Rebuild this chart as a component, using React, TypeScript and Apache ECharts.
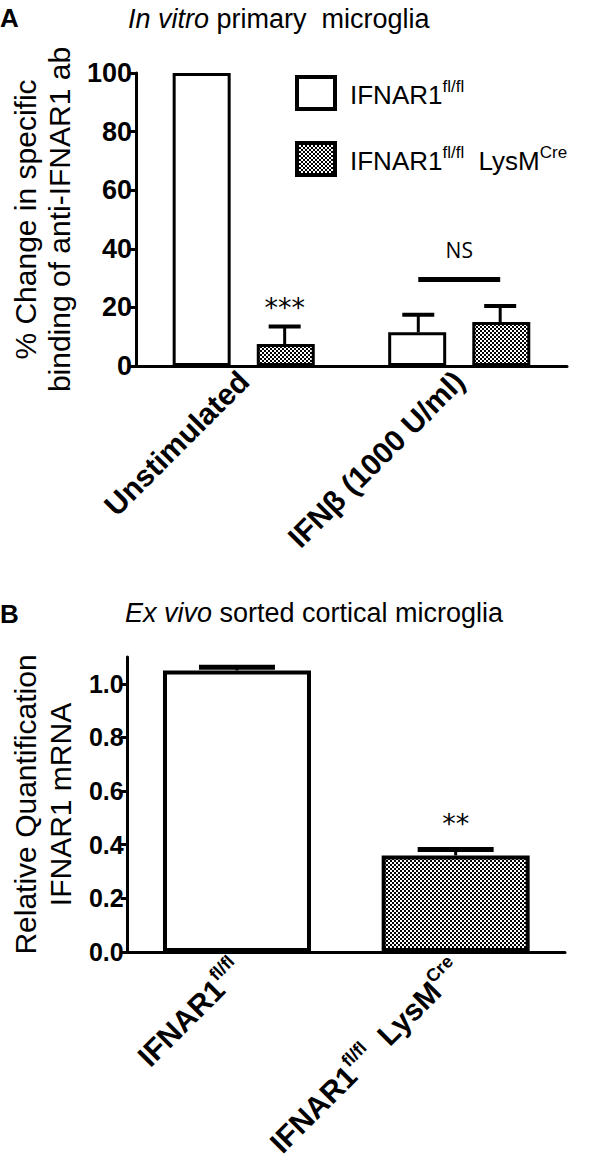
import React, { useEffect, useRef } from 'react';
import * as echarts from 'echarts';

// ---------- Panel A data ----------
const catsA = ['Unstimulated', 'IFNβ (1000 U/ml)'];
const wtA = [100, 11.5];
const koA = [7.5, 15];
const wtErrA = [0, 6];
const koErrA = [6, 5.5];
const starsA = [{ cat: 0, side: 1, y: 20, label: '***' }];
const nsA = [{ cat: 1, y: 29.5, label: 'NS' }];

// ---------- Panel B data ----------
const catsB = ['IFNAR1fl/fl', 'IFNAR1fl/fl LysMCre'];
const valsB = [1.05, 0.36];
const errB = [0.012, 0.022];
const yTicksB = [0, 0.2, 0.4, 0.6, 0.8, 1.0];
const starsB = [{ cat: 1, side: 0, y: 0.48, label: '**' }];

const WT_NAME = 'IFNAR1fl/fl';
const KO_NAME = 'IFNAR1fl/fl LysMCre';
const FONT = "'Liberation Sans', Arial, Helvetica, sans-serif";

function makePattern() {
  const c = document.createElement('canvas');
  c.width = 4;
  c.height = 4;
  const ctx = c.getContext('2d')!;
  ctx.fillStyle = '#000';
  ctx.fillRect(0, 0, 4, 4);
  ctx.fillStyle = '#fff';
  ctx.fillRect(0, 0, 2, 2);
  ctx.fillRect(2, 2, 2, 2);
  return { image: c, repeat: 'repeat', imageWidth: 4, imageHeight: 4 } as any;
}

const errRender = (capHalf: number, capW: number, frac: number) => (params: any, api: any) => {
  const cat = api.value(0);
  const base = api.value(1);
  const top = api.value(2);
  const side = api.value(3);
  const bw = api.size([1, 0])[0];
  const p0 = api.coord([cat, base]);
  const p1 = api.coord([cat, top]);
  const x = p0[0] + side * bw * frac;
  return {
    type: 'group',
    children: [
      { type: 'line', shape: { x1: x, y1: p0[1], x2: x, y2: p1[1] }, style: { stroke: '#000', lineWidth: 3 } },
      { type: 'line', shape: { x1: x - capHalf, y1: p1[1], x2: x + capHalf, y2: p1[1] }, style: { stroke: '#000', lineWidth: capW } },
    ],
  };
};

const starRender = (labels: string[], frac: number, size: number) => (params: any, api: any) => {
  const cat = api.value(0);
  const y = api.value(1);
  const side = api.value(2);
  const bw = api.size([1, 0])[0];
  const p = api.coord([cat, y]);
  return {
    type: 'text',
    x: p[0] + side * bw * frac,
    y: p[1],
    style: {
      text: labels[params.dataIndex],
      fill: '#000',
      fontSize: size,
      fontFamily: "'DejaVu Sans', sans-serif",
      align: 'center',
      verticalAlign: 'middle',
    },
  };
};

const nsRender = (labels: string[], frac: number) => (params: any, api: any) => {
  const cat = api.value(0);
  const y = api.value(1);
  const bw = api.size([1, 0])[0];
  const p = api.coord([cat, y]);
  const x0 = p[0] - bw * frac;
  const x1 = p[0] + bw * frac;
  return {
    type: 'group',
    children: [
      { type: 'line', shape: { x1: x0, y1: p[1], x2: x1, y2: p[1] }, style: { stroke: '#000', lineWidth: 5 } },
      {
        type: 'text',
        x: p[0],
        y: p[1] - 30,
        style: {
          text: labels[params.dataIndex],
          fill: '#000',
          fontSize: 21,
          fontFamily: "'Open Sans', sans-serif",
          align: 'center',
          verticalAlign: 'middle',
        },
      },
    ],
  };
};

export default function App() {
  const ref = useRef<HTMLDivElement>(null);
  useEffect(() => {
    document.body.style.margin = '0';
    const chart = echarts.init(ref.current!, null, { renderer: 'svg' });
    const pattern = makePattern();

    const errDataA: number[][] = [];
    catsA.forEach((_, i) => {
      if (wtErrA[i] > 0) errDataA.push([i, wtA[i], wtA[i] + wtErrA[i], -1]);
      if (koErrA[i] > 0) errDataA.push([i, koA[i], koA[i] + koErrA[i], 1]);
    });
    const errDataB = catsB.map((_, i) => [i, valsB[i], valsB[i] + errB[i], 0]);

    const supRich = {
      n: { fontSize: 30, fontWeight: 'bold', lineHeight: 34, verticalAlign: 'bottom', fontFamily: FONT, color: '#000' },
      sup: { fontSize: 18, fontWeight: 'bold', lineHeight: 18, verticalAlign: 'top', fontFamily: FONT, color: '#000' },
    };

    const axisLineStyle = { color: '#000', width: 3 };

    chart.setOption({
      animation: false,
      backgroundColor: '#fff',
      title: [
        { text: 'A', left: 0, top: 3, padding: 0, textStyle: { fontSize: 26, fontWeight: 'bold', color: '#000', fontFamily: FONT, lineHeight: 30 } },
        {
          text: '{i|In vitro} primary  microglia',
          left: 128,
          top: 4,
          padding: 0,
          textStyle: {
            fontSize: 27, fontWeight: 'normal', color: '#000', fontFamily: FONT, lineHeight: 30,
            rich: { i: { fontSize: 27, fontStyle: 'italic', color: '#000', fontFamily: FONT, lineHeight: 30 } },
          },
        },
        { text: 'B', left: 0, top: 599, padding: 0, textStyle: { fontSize: 26, fontWeight: 'bold', color: '#000', fontFamily: FONT, lineHeight: 30 } },
        {
          text: '{i|Ex vivo} sorted cortical microglia',
          left: 125,
          top: 598,
          padding: 0,
          textStyle: {
            fontSize: 27, fontWeight: 'normal', color: '#000', fontFamily: FONT, lineHeight: 30,
            rich: { i: { fontSize: 27, fontStyle: 'italic', color: '#000', fontFamily: FONT, lineHeight: 30 } },
          },
        },
      ],
      legend: {
        data: [WT_NAME, KO_NAME],
        orient: 'vertical',
        left: 295,
        top: 75,
        itemWidth: 38,
        itemHeight: 32,
        itemGap: 30,
        icon: 'rect',
        itemStyle: { borderWidth: 4, borderColor: '#000' },
        padding: 0,
        formatter: (name: string) =>
          name === WT_NAME ? '{n|IFNAR1}{sup|fl/fl}' : '{n|IFNAR1}{sup|fl/fl}{n|  LysM}{sup|Cre}',
        textStyle: {
          padding: [0, 0, 0, 10],
          rich: {
            n: { fontSize: 26, lineHeight: 30, verticalAlign: 'bottom', fontFamily: FONT, color: '#000' },
            sup: { fontSize: 17, lineHeight: 17, verticalAlign: 'top', fontFamily: FONT, color: '#000' },
          },
        },
      },
      grid: [
        { left: 125, right: 33, top: 73, bottom: 1173 - 366 },
        { left: 122, right: 35, top: 657, bottom: 1173 - 952 },
      ],
      xAxis: [
        {
          gridIndex: 0,
          type: 'category',
          data: catsA,
          axisLine: { lineStyle: axisLineStyle },
          axisTick: { alignWithLabel: true, length: 8, lineStyle: { color: '#000', width: 3 } },
          axisLabel: { rotate: 45, interval: 0, margin: 10, color: '#000', fontFamily: FONT, fontWeight: 'bold', fontSize: 30 },
        },
        {
          gridIndex: 1,
          type: 'category',
          data: catsB,
          axisLine: { lineStyle: axisLineStyle },
          axisTick: { alignWithLabel: true, length: 9, lineStyle: { color: '#000', width: 3 } },
          axisLabel: {
            rotate: 45,
            interval: 0,
            margin: 12,
            formatter: (v: string) => (v === catsB[0] ? '{n|IFNAR1}{sup|fl/fl}' : '{n|IFNAR1}{sup|fl/fl}{n|  LysM}{sup|Cre}'),
            rich: supRich,
          },
        },
      ],
      yAxis: [
        {
          gridIndex: 0,
          type: 'value',
          min: 0,
          max: 100,
          interval: 20,
          name: '% Change in specific\nbinding of anti-IFNAR1 ab',
          nameLocation: 'middle',
          nameRotate: 90,
          nameGap: 41,
          nameTextStyle: { fontSize: 30, lineHeight: 34, color: '#000', fontFamily: FONT },
          axisLine: { show: true, lineStyle: axisLineStyle },
          axisTick: { show: true, length: 7, lineStyle: { color: '#000', width: 3 } },
          axisLabel: { color: '#000', fontFamily: FONT, fontWeight: 'bold', fontSize: 27, margin: 4 },
          splitLine: { show: false },
        },
        {
          gridIndex: 1,
          type: 'value',
          min: 0,
          max: 1.1,
          interval: 0.2,
          name: 'Relative Quantification\nIFNAR1 mRNA',
          nameLocation: 'middle',
          nameRotate: 90,
          nameGap: 44,
          nameTextStyle: { fontSize: 30, lineHeight: 35, color: '#000', fontFamily: FONT },
          axisLine: { show: true, lineStyle: axisLineStyle },
          axisTick: { show: true, length: 7, customValues: yTicksB, lineStyle: { color: '#000', width: 3 } },
          axisLabel: {
            customValues: yTicksB,
            formatter: (v: number) => v.toFixed(1),
            color: '#000', fontFamily: FONT, fontWeight: 'bold', fontSize: 25, margin: 4,
          },
          splitLine: { show: false },
        },
      ],
      series: [
        {
          name: WT_NAME,
          type: 'bar',
          xAxisIndex: 0,
          yAxisIndex: 0,
          data: wtA,
          barWidth: 58,
          barGap: '45%',
          itemStyle: { color: '#fff', borderColor: '#000', borderWidth: 3 },
        },
        {
          name: KO_NAME,
          type: 'bar',
          xAxisIndex: 0,
          yAxisIndex: 0,
          data: koA,
          barWidth: 58,
          barGap: '45%',
          itemStyle: { color: pattern, borderColor: '#000', borderWidth: 3 },
        },
        {
          name: 'errA',
          type: 'custom',
          xAxisIndex: 0,
          yAxisIndex: 0,
          silent: true,
          z: 5,
          encode: { x: 0, y: 2 },
          data: errDataA,
          renderItem: errRender(16, 4, 0.19),
        },
        {
          name: 'starsA',
          type: 'custom',
          xAxisIndex: 0,
          yAxisIndex: 0,
          silent: true,
          z: 5,
          encode: { x: 0, y: 1 },
          data: starsA.map((s) => [s.cat, s.y, s.side]),
          renderItem: starRender(starsA.map((s) => s.label), 0.19, 27),
        },
        {
          name: 'nsA',
          type: 'custom',
          xAxisIndex: 0,
          yAxisIndex: 0,
          silent: true,
          z: 5,
          encode: { x: 0, y: 1 },
          data: nsA.map((s) => [s.cat, s.y]),
          renderItem: nsRender(nsA.map((s) => s.label), 0.19),
        },
        {
          name: 'barsB',
          type: 'bar',
          xAxisIndex: 1,
          yAxisIndex: 1,
          barWidth: 148,
          data: valsB.map((v, i) => ({
            value: v,
            itemStyle: { color: i === 0 ? '#fff' : pattern, borderColor: '#000', borderWidth: 4 },
          })),
        },
        {
          name: 'errB',
          type: 'custom',
          xAxisIndex: 1,
          yAxisIndex: 1,
          silent: true,
          z: 5,
          encode: { x: 0, y: 2 },
          data: errDataB,
          renderItem: errRender(38, 5, 0),
        },
        {
          name: 'starsB',
          type: 'custom',
          xAxisIndex: 1,
          yAxisIndex: 1,
          silent: true,
          z: 5,
          encode: { x: 0, y: 1 },
          data: starsB.map((s) => [s.cat, s.y, s.side]),
          renderItem: starRender(starsB.map((s) => s.label), 0, 27),
        },
      ],
    });
    return () => chart.dispose();
  }, []);
  return <div ref={ref} style={{ width: 600, height: 1173 }} />;
}
